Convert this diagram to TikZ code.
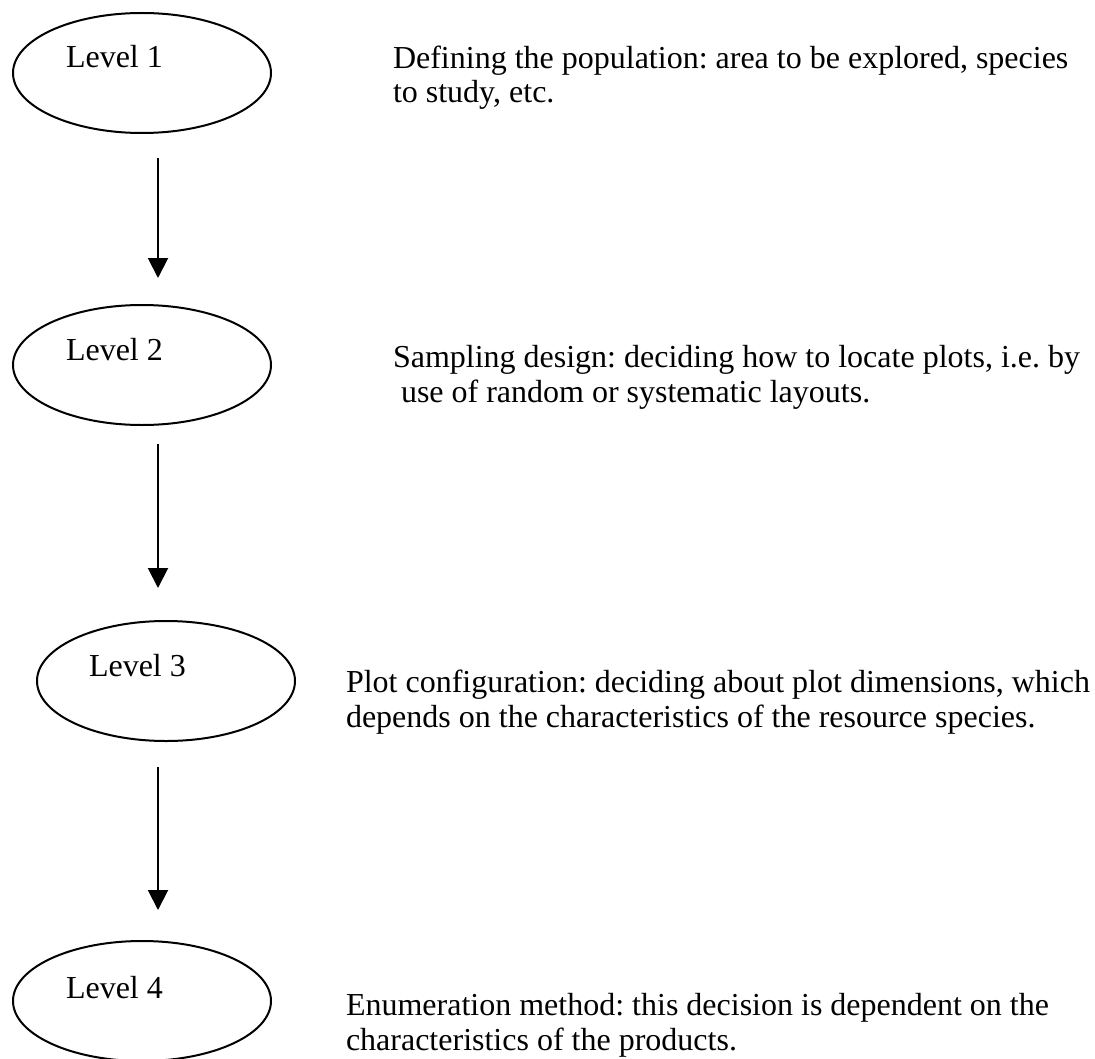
\documentclass[tikz,border=0pt]{standalone}
\usepackage{fontspec}
\setmainfont{Liberation Serif}
\usetikzlibrary{shapes.geometric,arrows.meta}

\begin{document}
\frenchspacing
\begin{tikzpicture}[
  x=0.375pt, y=-0.375pt,
  every node/.style={inner sep=0pt, outer sep=0pt},
  levelshape/.style={draw, line width=0.75pt, ellipse,
    minimum width=96.75pt, minimum height=45pt},
  levellabel/.style={anchor=base west, font=\fontsize{12}{13}\selectfont},
  % multi-line notes: the base anchor sits on the last line
  note/.style={anchor=base west, align=left, font=\fontsize{12}{13}\selectfont},
  flow/.style={line width=0.75pt, -{Triangle[width=7.5pt,length=7.5pt]}}
]
\useasboundingbox (0,0) rectangle (1095,1059);

% the four level ellipses
\node[levelshape] (e1) at (142,73)   {};
\node[levelshape] (e2) at (142,365)  {};
\node[levelshape] (e3) at (166,681)  {};
\node[levelshape] (e4) at (142,1001) {};

% level names, set towards the upper left of each ellipse
\node[levellabel] (l1) at (66,68)  {Level 1};
\node[levellabel] (l2) at (66,360) {Level 2};
\node[levellabel] (l3) at (89,676) {Level 3};
\node[levellabel] (l4) at (66,998) {Level 4};

% descriptions on the right
\node[note] (d1) at (393,103) {Defining the population: area to be explored, species\\to study, etc.};
\node[note] (d2) at (393,402) {Sampling design: deciding how to locate plots, i.e. by\\\hspace{0.25em}use of random or systematic layouts.};
\node[note] (d3) at (346,727) {Plot configuration: deciding about plot dimensions, which\\depends on the characteristics of the resource species.};
\node[note] (d4) at (346,1050) {Enumeration method: this decision is dependent on the\\characteristics of the products.};

% arrows between the levels
\coordinate (a1s) at (158,158);
\coordinate (a1e) at (158,278);
\coordinate (a2s) at (158,444);
\coordinate (a2e) at (158,588);
\coordinate (a3s) at (158,767);
\coordinate (a3e) at (158,910);
\draw[flow] (a1s) -- (a1e);
\draw[flow] (a2s) -- (a2e);
\draw[flow] (a3s) -- (a3e);
\end{tikzpicture}
\end{document}
